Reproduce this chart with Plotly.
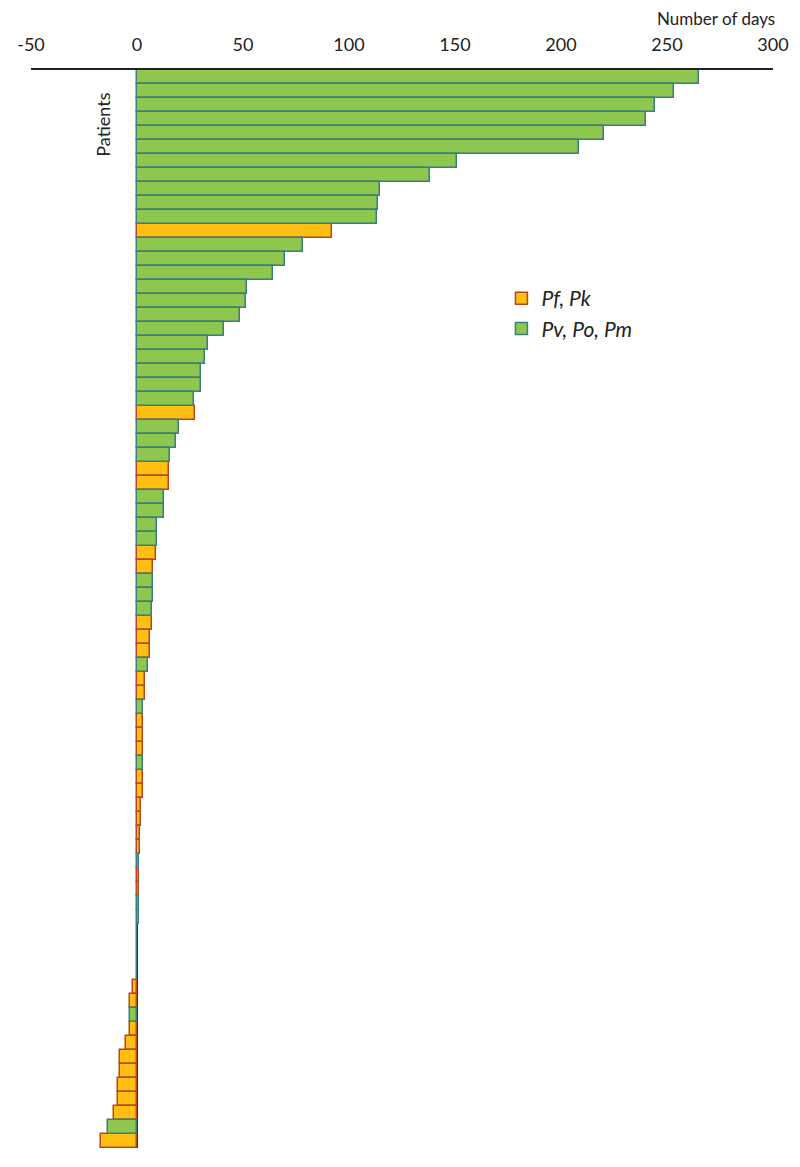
import plotly.graph_objects as go

# Days per patient (top to bottom) and parasite group
days = [265, 253.5, 244.5, 240, 220.5, 208.5, 151, 138, 114.5, 113.5, 113,
        92, 78.5, 70, 64, 52, 51.5, 48.5, 41, 33.5, 32, 30, 30, 27, 27.5,
        20, 18.5, 15.5, 15, 15, 12.5, 12.5, 9.5, 9.5, 9, 7.5, 7.5, 7.5, 7, 7,
        6, 6, 5, 4, 4, 3, 3, 3, 3, 3, 3, 3, 1.7, 1.7, 1.5, 1.5, 1, 1, 1, 1, 1,
        0, 0, 0, 0,
        -2, -3.2, -3.2, -3.2, -5, -8, -8, -9, -9, -11, -13.5, -17]
group = list("GGGGGGGGGGG" "O" "GGGGGGGGGGGG" "O" "GGG" "OO" "GGGG" "OO"
             "GGG" "OOO" "G" "OO" "G" "OOO" "G" "OOOOOO" "G" "OO" "GG"
             "GGGG" "OO" "G" "OOOOOOO" "G" "O")
tick_vals = [-50, 0, 50, 100, 150, 200, 250, 300]
tick_text = ["-50", "0", "50", "100", "150", "200", "250", "300"]
labels = {"O": "<i>Pf, Pk</i>", "G": "<i>Pv, Po, Pm</i>"}
fills = {"O": "#FFBE12", "G": "#8DC74E"}
edges = {"O": "#B8461E", "G": "#3A7E80"}

idx = list(range(len(days)))
fig = go.Figure()
for g in ["O", "G"]:
    ys = [i for i in idx if group[i] == g]
    xs = [days[i] for i in idx if group[i] == g]
    fig.add_trace(go.Bar(
        x=xs, y=ys, orientation="h", name=labels[g], legendgroup=g,
        marker=dict(color=fills[g], line=dict(color=edges[g], width=1.5)),
        width=1.0,
    ))

fig.update_layout(
    width=800, height=1167,
    margin=dict(l=23, r=35, t=62, b=27, autoexpand=False),
    paper_bgcolor="white", plot_bgcolor="white",
    barmode="overlay", bargap=0,
    font=dict(family="Lato, Open Sans, sans-serif", size=18, color="#222"),
    showlegend=True,
    legend=dict(x=0.634, y=0.807, xanchor="left", yanchor="top",
                traceorder="grouped", tracegroupgap=0, itemwidth=30,
                font=dict(size=21, color="#222"), bgcolor="rgba(0,0,0,0)"),
    xaxis=dict(side="top", range=[-50, 300], tickvals=tick_vals,
               ticktext=tick_text, automargin=False,
               showgrid=False, showline=True, linecolor="#222", linewidth=1.5,
               ticks="", ticklabelstandoff=10,
               zeroline=True, zerolinecolor="#333", zerolinewidth=1.5),
    yaxis=dict(range=[len(days) - 0.5, -0.5], showticklabels=False,
               automargin=False,
               showgrid=False, zeroline=False, showline=False, ticks=""),
    annotations=[
        dict(text="Number of days", xref="paper", yref="paper",
             x=1.005, y=1.0, xanchor="right", yanchor="bottom", yshift=39,
             showarrow=False, font=dict(size=17)),
        dict(text="Patients", xref="x", yref="y", x=-16, y=3.4,
             textangle=-90, showarrow=False, font=dict(size=18)),
    ],
)

fig.write_html("out.html")
